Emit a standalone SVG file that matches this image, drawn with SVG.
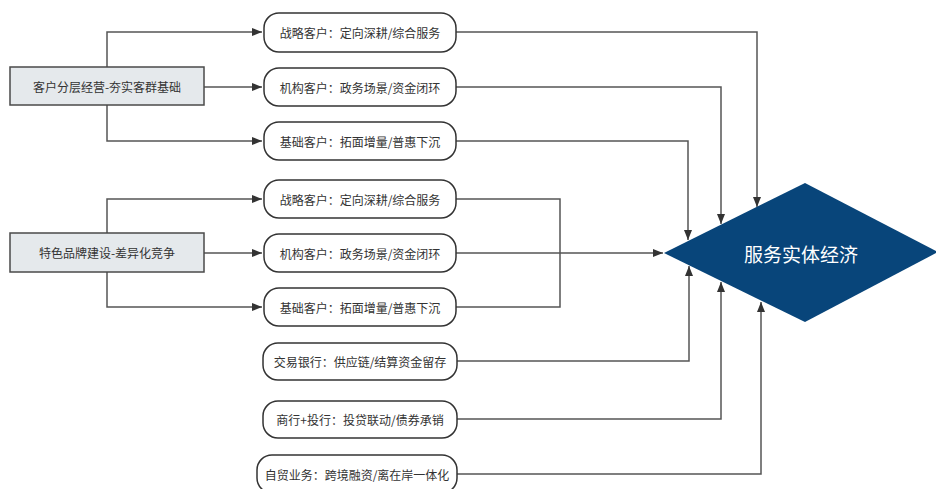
<svg xmlns="http://www.w3.org/2000/svg" width="936" height="489" viewBox="0 0 936 489">
<defs>
<marker id="ah" viewBox="0 0 10 10" refX="10" refY="5" markerWidth="10" markerHeight="10" markerUnits="userSpaceOnUse" orient="auto">
<path d="M0,1 L10,5 L0,9 Z" fill="#333"/>
</marker>
<style>
.src rect{fill:#e5e9ec;stroke:#4a4a4a;stroke-width:1.5}
.pill rect{fill:#fff;stroke:#333;stroke-width:1.5}
text{font-family:"Noto Sans CJK SC","Noto Sans",sans-serif;font-size:12px;fill:#333;text-anchor:middle;dominant-baseline:central}
.c path{fill:none;stroke:#555;stroke-width:1.5}
.c path.a{marker-end:url(#ah)}
</style>
</defs>
<rect width="936" height="489" fill="#fff"/>
<g class="c">
<path class="a" d="M107,67 V32 H262"/>
<path class="a" d="M204,87 H262"/>
<path class="a" d="M107,105 V141 H262"/>
<path class="a" d="M107,233 V199 H262"/>
<path class="a" d="M204,253 H262"/>
<path class="a" d="M107,272 V307 H262"/>
<path class="a" d="M456,32 H757 V207"/>
<path class="a" d="M456,87 H721 V224"/>
<path class="a" d="M456,141 H688 V240"/>
<path d="M456,199 H560 V307 H456"/>
<path class="a" d="M456,253 H663"/>
<path class="a" d="M457,361 H689 V266"/>
<path class="a" d="M457,419 H721 V282"/>
<path class="a" d="M457,474 H761 V302"/>
</g>
<g id="src1" class="src"><rect x="10" y="67" width="194" height="38"/><text x="107" y="86">客户分层经营-夯实客群基础</text></g>
<g id="src2" class="src"><rect x="10" y="233" width="194" height="39"/><text x="107" y="252.5">特色品牌建设-差异化竞争</text></g>
<g id="a1" class="pill"><rect x="264" y="13" width="192" height="39" rx="15"/><text x="360" y="32.5">战略客户：定向深耕/综合服务</text></g>
<g id="a2" class="pill"><rect x="264" y="68" width="192" height="38" rx="15"/><text x="360" y="87">机构客户：政务场景/资金闭环</text></g>
<g id="a3" class="pill"><rect x="264" y="122" width="192" height="38" rx="15"/><text x="360" y="141">基础客户：拓面增量/普惠下沉</text></g>
<g id="b1" class="pill"><rect x="264" y="180" width="192" height="38" rx="15"/><text x="360" y="199">战略客户：定向深耕/综合服务</text></g>
<g id="b2" class="pill"><rect x="264" y="234" width="192" height="38" rx="15"/><text x="360" y="253">机构客户：政务场景/资金闭环</text></g>
<g id="b3" class="pill"><rect x="264" y="288" width="192" height="38" rx="15"/><text x="360" y="307">基础客户：拓面增量/普惠下沉</text></g>
<g id="c1" class="pill"><rect x="263" y="343" width="194" height="37" rx="15"/><text x="360" y="361.5">交易银行：供应链/结算资金留存</text></g>
<g id="c2" class="pill"><rect x="263" y="401" width="194" height="37" rx="15"/><text x="360" y="419.5">商行+投行：投贷联动/债券承销</text></g>
<g id="c3" class="pill"><rect x="257" y="455" width="200" height="38" rx="15"/><text x="357" y="474">自贸业务：跨境融资/离在岸一体化</text></g>
<g id="target"><polygon points="664,253 805,183 938,252 805,322" fill="#08457a"/><text x="801" y="253" style="font-size:19px;fill:#fff">服务实体经济</text></g>
</svg>
